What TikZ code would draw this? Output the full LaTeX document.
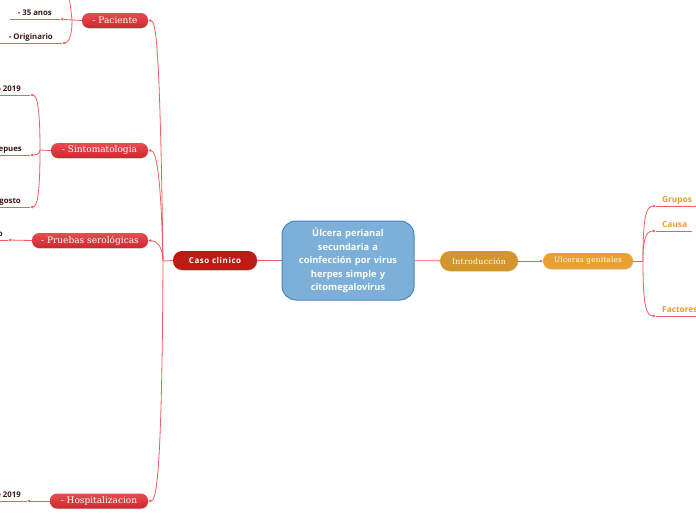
\documentclass[tikz,border=0pt]{standalone}
\usepackage{fontspec}
\setmainfont{DejaVu Serif}
\newfontfamily\leaffont{Open Sans}
\newfontfamily\spacedsans[LetterSpace=7]{Open Sans}
\newfontfamily\spacedserif[LetterSpace=3]{DejaVu Serif}
\usetikzlibrary{arrows.meta, positioning, shadows}

\definecolor{linkred}{HTML}{F25D5F}
\definecolor{topictop}{HTML}{EA4B50}
\definecolor{topicbottom}{HTML}{C9292F}
\definecolor{casored}{HTML}{B91D15}
\definecolor{introorange}{HTML}{D4962C}
\definecolor{ulcorange}{HTML}{E9A133}
\definecolor{centralblue}{HTML}{7DB0D8}
\definecolor{centralborder}{HTML}{4089C6}
\definecolor{leafdark}{HTML}{3A1616}
\definecolor{leaforange}{HTML}{EE9B2F}

\tikzstyle{link} = [draw=linkred, line width=0.8pt]
\tikzstyle{arrow} = [link, -{Latex[length=3pt,width=3pt]}]
\tikzstyle{softshadow} = [drop shadow={opacity=0.22, shadow xshift=0.5pt, shadow yshift=-0.9pt}]
\tikzstyle{topic} = [rectangle, rounded corners=7pt, minimum height=15pt, inner sep=0pt, text=white, top color=topictop, bottom color=topicbottom, softshadow, font=\fontsize{9}{10}\selectfont]
\tikzstyle{central} = [rectangle, rounded corners=14pt, minimum width=132pt, minimum height=79pt, text width=124pt, align=center, fill=centralblue, draw=centralborder, line width=1pt, text=white, font=\leaffont\bfseries\fontsize{9.3}{13.5}\selectfont]
\tikzstyle{leaf} = [inner xsep=8pt, inner ysep=2pt, text depth=1.5pt, text=leafdark, font=\leaffont\bfseries\fontsize{7.8}{9}\selectfont, append after command={(\tikzlastnode.south west) edge[link] (\tikzlastnode.south east)}]
\tikzstyle{rightleaf} = [leaf, inner xsep=6pt, align=left, text=leaforange, font=\leaffont\bfseries\fontsize{8.3}{10}\selectfont]

\begin{document}
\begin{tikzpicture}[x=1pt, y=-1pt]
    \useasboundingbox[fill=white] (0,0) rectangle (696,520);

    % centre and main topics
    \node (ULCERA) [central] at (348,260.5) {Úlcera perianal\\ secundaria a\\ coinfección por virus\\ herpes simple y\\ citomegalovirus};
    \node (CASO) [rectangle, rounded corners=9pt, minimum width=84pt, minimum height=19pt, fill=casored, softshadow, text=white, font=\spacedsans\bfseries\fontsize{8}{9}\selectfont] at (215,260.5) {Caso clinico};
    \node (INTRO) [rectangle, rounded corners=10pt, minimum width=78pt, minimum height=20pt, fill=introorange, softshadow, text=white, font=\spacedserif\fontsize{7.9}{9}\selectfont] at (479,261) {Introducción};
    \node (ULCERAS) [rectangle, rounded corners=8pt, minimum width=90pt, minimum height=16pt, fill=ulcorange, softshadow, text=white, font=\spacedserif\fontsize{7.3}{9}\selectfont] at (588,261) {Ulceras genitales};

    \draw [link] (ULCERA) -- (CASO);
    \draw [link] (ULCERA) -- (INTRO);
    \draw [arrow] (INTRO) -- (ULCERAS);

    % left branches
    \node (PACIENTE) [topic, minimum width=66pt] at (115,20.5) {- Paciente};
    \node (SINTOMAS) [topic, minimum width=97pt] at (99.5,150.5) {- Sintomatologia};
    \node (PRUEBAS) [topic, minimum width=116pt] at (90,240.5) {- Pruebas serológicas};
    \node (HOSPITAL) [topic, minimum width=98pt] at (99,501) {- Hospitalizacion};

    \coordinate (LTRUNK) at (163,261);
    \draw [link] (CASO.west) -- (LTRUNK);
    \draw [arrow] (LTRUNK) .. controls (160,45) and (156,20.5) .. (PACIENTE.east);
    \draw [arrow] (LTRUNK) .. controls (161,172) and (156,150.5) .. (SINTOMAS.east);
    \draw [arrow] (LTRUNK) .. controls (163,246) and (156,240.5) .. (PRUEBAS.east);
    \draw [arrow] (LTRUNK) .. controls (162,482) and (156,501) .. (HOSPITAL.east);

    % Paciente
    \node (ANOS) [leaf, minimum width=47pt, anchor=south east] at (60,19) {- 35 anos};
    \node (ORIGEN) [leaf, minimum width=62pt, anchor=south east] at (62,43) {- Originario};
    \coordinate (PTRUNK) at (72,20);
    \coordinate (PACTOP) at (62,-14);
    \draw [link] (PACIENTE.west) -- (PTRUNK);
    \draw [link] (PTRUNK) .. controls (70,0) and (68,-14) .. (PACTOP);
    \draw [arrow] (PTRUNK) -- (ANOS.south east);
    \draw [arrow] (PTRUNK) .. controls (72,38) and (68,43) .. (ORIGEN.south east);

    % Sintomatologia
    \node (FECHA) [leaf, inner xsep=9pt, anchor=south east] at (30,95) {o 2019};
    \node (DESPUES) [leaf, anchor=south east] at (30,155) {epues};
    \node (AGOSTO) [leaf, inner xsep=9pt, anchor=south east] at (30,207) {gosto};
    \coordinate (STRUNK) at (40,150);
    \draw [link] (SINTOMAS.west) -- (STRUNK);
    \draw [arrow] (STRUNK) .. controls (40,106) and (37,95) .. (FECHA.south east);
    \draw [arrow] (STRUNK) .. controls (40,154) and (36,155) .. (DESPUES.south east);
    \draw [arrow] (STRUNK) .. controls (40,196) and (37,207) .. (AGOSTO.south east);

    % Pruebas serologicas
    \node (SEROLOGIA) [leaf, inner xsep=5pt, anchor=south east] at (8,240) {o};
    \draw [arrow] (PRUEBAS.west) -- (SEROLOGIA.south east);

    % Hospitalizacion
    \node (INGRESO) [leaf, inner xsep=6pt, anchor=south east] at (27,501) {e 2019};
    \draw [arrow] (HOSPITAL.west) -- (INGRESO.south east);

    % Ulceras genitales
    \node (GRUPOS) [rightleaf, text width=38pt, anchor=south west] at (656,206) {Grupos};
    \node (CAUSA) [rightleaf, text width=24pt, anchor=south west] at (656,231) {Causa};
    \node (FACTORES) [rightleaf, text width=38pt, anchor=south west] at (656,316) {Factores};
    \coordinate (RTRUNK) at (643,261);
    \draw [link] (ULCERAS.east) -- (RTRUNK);
    \draw [arrow] (RTRUNK) .. controls (643,216) and (646,206) .. (GRUPOS.south west);
    \draw [arrow] (RTRUNK) .. controls (643,238) and (646,231) .. (CAUSA.south west);
    \draw [arrow] (RTRUNK) .. controls (643,306) and (646,316) .. (FACTORES.south west);
\end{tikzpicture}
\end{document}
